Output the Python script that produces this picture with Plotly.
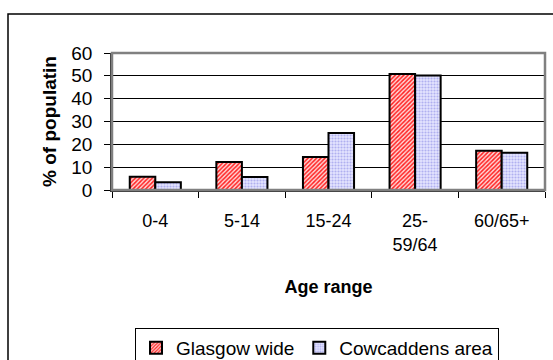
import plotly.graph_objects as go

# Age bands and share of population (%) for each area
age_ranges = ["0-4", "5-14", "15-24", "25-<br>59/64", "60/65+"]
glasgow_wide = [5.8, 12.3, 14.5, 50.8, 17.2]
cowcaddens_area = [3.4, 5.7, 25.0, 50.1, 16.3]
y_ticks = [0, 10, 20, 30, 40, 50, 60]

W, H = 553, 360
ML, MR, MT, MB = 112, 8, 53, 170
pw, ph = W - ML - MR, H - MT - MB

font_family = "Liberation Sans, Arial, sans-serif"

fig = go.Figure()
fig.add_trace(go.Bar(
    name="Glasgow wide", x=age_ranges, y=glasgow_wide,
    marker=dict(
        color="#FF4040",
        line=dict(color="#000000", width=2),
        pattern=dict(shape="/", fgcolor="#FF2020", bgcolor="#FFD8D8",
                     size=3, solidity=0.5, fillmode="replace"),
    ),
))
fig.add_trace(go.Bar(
    name="Cowcaddens area", x=age_ranges, y=cowcaddens_area,
    marker=dict(
        color="#CCCCFF",
        line=dict(color="#000000", width=2),
        pattern=dict(shape=".", fgcolor="#B0B0F0", bgcolor="#E4E4FF",
                     size=3, solidity=0.4, fillmode="replace"),
    ),
))

# outer chart frame (runs off the right and bottom edges)
fig.add_shape(type="rect", xref="paper", yref="paper",
              x0=(8 - ML) / pw, x1=(W + 20 - ML) / pw,
              y0=-(H + 20 - MT - ph) / ph, y1=(MT + ph - 14) / ph,
              line=dict(color="#000000", width=1.5), fillcolor="rgba(0,0,0,0)",
              layer="below")
# plot-area border
fig.add_shape(type="rect", xref="paper", yref="paper", x0=0, x1=1, y0=0, y1=1,
              line=dict(color="#808080", width=2.5), fillcolor="rgba(0,0,0,0)",
              layer="above")

fig.update_layout(
    width=W, height=H,
    margin=dict(l=ML, r=MR, t=MT, b=MB, pad=0, autoexpand=False),
    paper_bgcolor="#FFFFFF", plot_bgcolor="#FFFFFF",
    font=dict(family=font_family, size=18, color="#000000"),
    barmode="group", bargap=0.41, bargroupgap=0,
    showlegend=True,
    legend=dict(
        orientation="h", x=(135 - ML) / pw, xanchor="left",
        y=-(328 - MT - ph) / ph, yanchor="top",
        bordercolor="#000000", borderwidth=1, bgcolor="#FFFFFF",
        font=dict(family=font_family, size=19, color="#000000"),
        traceorder="normal", itemwidth=30,
    ),
    xaxis=dict(
        type="category", tickson="boundaries", ticks="outside", ticklen=6,
        tickcolor="#000000", showline=True, linecolor="#333333", linewidth=1.5,
        showgrid=False, ticklabelstandoff=14, automargin=False,
        tickfont=dict(size=18),
        title=dict(text="<b>Age range</b>", font=dict(size=18), standoff=27),
    ),
    yaxis=dict(
        range=[0, 60], tickvals=y_ticks, ticks="outside", ticklen=6,
        tickcolor="#000000", showline=True, linecolor="#333333", linewidth=1.5,
        showgrid=True, gridcolor="#000000", gridwidth=1, zeroline=False,
        ticklabelstandoff=8, automargin=False,
        tickfont=dict(size=19),
        title=dict(text="<b>% of populatin</b>", font=dict(size=19), standoff=10),
    ),
)

fig.write_html("out.html")
